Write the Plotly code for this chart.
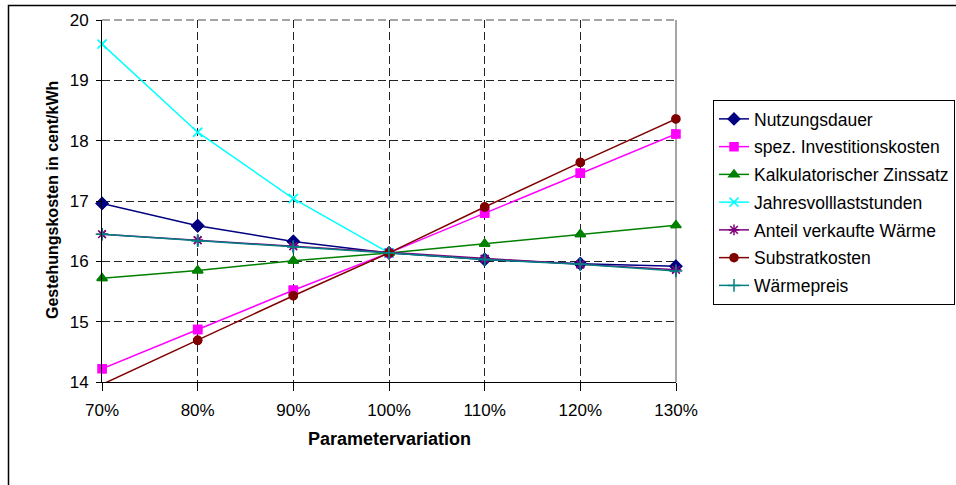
import plotly.graph_objects as go

x_pct = [70, 80, 90, 100, 110, 120, 130]
x_labels = ["70%", "80%", "90%", "100%", "110%", "120%", "130%"]

nutzungsdauer = [16.96, 16.59, 16.33, 16.14, 16.03, 15.96, 15.92]
spez_invest = [14.22, 14.87, 15.52, 16.14, 16.80, 17.46, 18.11]
kalk_zins = [15.72, 15.85, 16.01, 16.14, 16.29, 16.45, 16.60]
jahresvoll = [19.60, 18.14, 17.04, 16.14, None, None, None]
anteil_waerme = [16.45, 16.35, 16.25, 16.14, 16.04, 15.95, 15.86]
substrat = [13.96, 14.69, 15.43, 16.14, 16.90, 17.64, 18.36]
waermepreis = [16.45, 16.34, 16.24, 16.14, 16.03, 15.95, 15.84]

series = [
    ("Nutzungsdauer", nutzungsdauer, "#000080", "diamond", 9),
    ("spez. Investitionskosten", spez_invest, "#FF00FF", "square", 8),
    ("Kalkulatorischer Zinssatz", kalk_zins, "#008000", "triangle-up", 9),
    ("Jahresvolllaststunden", jahresvoll, "#00FFFF", "x-thin-open", 9),
    ("Anteil verkaufte Wärme", anteil_waerme, "#800080", "asterisk-open", 9),
    ("Substratkosten", substrat, "#800000", "circle", 8),
    ("Wärmepreis", waermepreis, "#008080", "cross-thin-open", 9),
]

Y_MIN, Y_MAX = 14, 20

fig = go.Figure()
for i, (name, vals, color, sym, size) in enumerate(series):
    fig.add_trace(go.Scatter(
        x=x_pct, y=vals, name=name, mode="lines+markers",
        line=dict(color=color, width=1.5),
        marker=dict(symbol=sym, size=size, color=color,
                    line=dict(color=color, width=1.5)),
        cliponaxis=True, legendgroup=f"g{i}", connectgaps=False,
    ))
    vis = [v if (v is not None and Y_MIN <= v <= Y_MAX) else None for v in vals]
    fig.add_trace(go.Scatter(
        x=x_pct, y=vis, mode="markers", showlegend=False, hoverinfo="skip",
        marker=dict(symbol=sym, size=size, color=color,
                    line=dict(color=color, width=1.5)),
        cliponaxis=False, legendgroup=f"g{i}",
    ))

font_family = "Liberation Sans, Arial, sans-serif"

fig.update_layout(
    width=956, height=485,
    margin=dict(l=102, r=280, t=20, b=103, autoexpand=False),
    paper_bgcolor="white", plot_bgcolor="white",
    font=dict(family=font_family, size=17, color="black"),
    showlegend=True,
    legend=dict(
        x=(713 - 102) / 574, y=1 - (100 - 20) / 362,
        xanchor="left", yanchor="top",
        bordercolor="black", borderwidth=1, bgcolor="white",
        font=dict(family=font_family, size=17.5, color="black"),
        traceorder="grouped", tracegroupgap=2,
        itemwidth=30,
    ),
    xaxis=dict(
        range=[70, 130], tickmode="array", tickvals=x_pct, ticktext=x_labels,
        showgrid=True, gridcolor="#222", griddash="8px,4px", gridwidth=1,
        showline=True, linecolor="black", linewidth=1,
        ticks="outside", ticklen=8, tickcolor="black",
        zeroline=False, ticklabelstandoff=5,
    ),
    yaxis=dict(
        range=[Y_MIN, Y_MAX], dtick=1, tick0=14,
        showgrid=True, gridcolor="#222", griddash="8px,4px", gridwidth=1,
        showline=True, linecolor="black", linewidth=1,
        ticks="outside", ticklen=5, tickcolor="black",
        zeroline=False, ticklabelstandoff=4,
    ),
    annotations=[
        dict(text="<b>Gestehungskosten in cent/kWh</b>", xref="paper", yref="paper",
             x=(52 - 102) / 574, y=1 - (200 - 20) / 362, xanchor="center", yanchor="middle",
             textangle=-90, showarrow=False, font=dict(size=16)),
        dict(text="<b>Parametervariation</b>", xref="paper", yref="paper",
             x=(389 - 102) / 574, y=-(439 - 382) / 362, xanchor="center", yanchor="middle",
             showarrow=False, font=dict(size=18)),
    ],
    shapes=[
        dict(type="rect", xref="paper", yref="paper",
             x0=(8.5 - 102) / 574, x1=(1000 - 102) / 574,
             y0=-(520 - 382) / 362, y1=1 + (20 - 5.5) / 362,
             line=dict(color="black", width=1.5), layer="below"),
        dict(type="line", xref="paper", yref="paper", x0=0, x1=1, y0=1, y1=1,
             line=dict(color="#888", width=1.5, dash="8px,4px"), layer="below"),
        dict(type="line", xref="paper", yref="paper", x0=1, x1=1, y0=0, y1=1,
             line=dict(color="#888", width=1.5), layer="below"),
    ],
)

fig.write_html("out.html")
